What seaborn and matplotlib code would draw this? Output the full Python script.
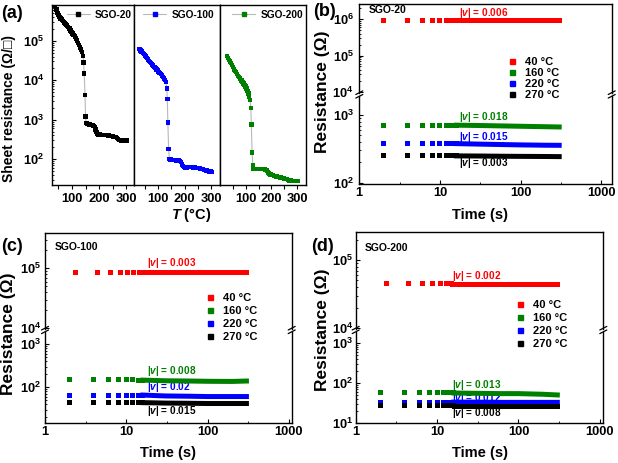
import numpy as np
import pandas as pd
import matplotlib
matplotlib.use('Agg')
import matplotlib.pyplot as plt
import seaborn as sns
from matplotlib.lines import Line2D
from matplotlib.ticker import (LogLocator, FixedLocator, FixedFormatter,
                               FuncFormatter, NullFormatter)

# ---------------- data : panel (a) ----------------
T20 = [30, 34, 38, 42, 46, 50, 54, 58, 62, 66, 70, 74, 78, 82, 86, 90, 94, 98, 102, 106,
       110, 114, 118, 122, 126, 130, 134, 138, 141, 143, 145, 148, 150, 152, 156, 160, 165, 170, 175, 180,
       184, 187, 190, 193, 197, 202, 207, 212, 217, 222, 227, 232, 237, 242, 247, 252, 257, 262, 266, 270,
       274, 278, 283, 288, 293, 298, 303]
R20 = [1.26e6, 1.0e6, 7.8e5, 6.2e5, 5.1e5, 4.5e5, 4.1e5, 3.7e5, 3.5e5, 3.2e5,
       2.95e5, 2.75e5, 2.6e5, 2.45e5, 2.25e5, 2.05e5, 1.85e5, 1.7e5, 1.55e5, 1.4e5,
       1.3e5, 1.15e5, 1.02e5, 8.9e4, 7.8e4, 6.8e4, 6.0e4, 5.2e4, 4.2e4, 2.8e4,
       1.5e4, 4.3e3, 1.2e3, 830, 795, 775, 760, 740, 725, 690,
       645, 560, 480, 435, 425, 425, 415, 415, 415, 405,
       405, 400, 400, 390, 380, 375, 370, 365, 345, 325,
       310, 305, 300, 300, 298, 295, 295]

T100 = [30, 34, 38, 42, 46, 50, 54, 58, 62, 66, 70, 74, 78, 82, 86, 90, 94, 98, 102, 106,
        110, 114, 118, 122, 126, 130, 133, 135, 137, 140, 143, 147, 152, 157, 162, 167, 172, 177, 182, 186,
        190, 194, 198, 203, 208, 213, 218, 223, 228, 233, 238, 243, 248, 253, 258, 263, 268, 273, 278, 283,
        288, 293, 298, 303]
R100 = [6.3e4, 5.75e4, 5.4e4, 5.0e4, 4.6e4, 4.25e4, 4.0e4, 3.65e4, 3.4e4, 3.1e4,
        2.9e4, 2.7e4, 2.5e4, 2.35e4, 2.2e4, 2.05e4, 1.9e4, 1.8e4, 1.65e4, 1.55e4,
        1.45e4, 1.33e4, 1.23e4, 1.12e4, 1.02e4, 8.9e3, 6.2e3, 3.3e3, 850, 180,
        100, 98, 96, 95, 94, 93, 93, 92, 91, 85,
        74, 66, 63, 62, 62, 63, 63, 63, 63, 62,
        61, 60, 60, 59, 58, 57, 56, 54, 53, 52,
        50, 49, 48.5, 48]

T200 = [27, 31, 35, 39, 43, 47, 51, 55, 59, 63, 67, 71, 75, 79, 83, 87, 91, 95, 99, 103,
        107, 111, 114, 117, 120, 122, 125, 128, 131, 135, 140, 145, 150, 155, 160, 165, 170, 175, 180, 184,
        188, 192, 196, 200, 205, 210, 215, 220, 225, 230, 235, 240, 245, 250, 255, 260, 265, 270, 275, 280,
        285, 290, 295, 300, 305]
R200 = [4.1e4, 3.7e4, 3.3e4, 3.0e4, 2.75e4, 2.45e4, 2.2e4, 1.9e4, 1.75e4, 1.6e4,
        1.45e4, 1.3e4, 1.2e4, 1.1e4, 1.0e4, 9.1e3, 8.3e3, 7.6e3, 6.9e3, 6.2e3,
        5.4e3, 4.6e3, 3.9e3, 3.2e3, 2.0e3, 750, 148, 69, 57, 56,
        56, 56, 56, 56, 56, 56, 56, 55, 54, 51,
        46, 43, 41, 40, 39, 38, 37, 36, 35.5, 35,
        34, 33.5, 33, 32, 31.5, 31, 30, 29, 28.5, 28,
        28, 28, 28, 27.5, 27.5]

a_names = ['SGO-20', 'SGO-100', 'SGO-200']
a_colors = ['#000000', '#0000ff', '#008000']

# ---------------- data : panels (b)-(d) ----------------
temp_labels = ['40 °C', '160 °C', '220 °C', '270 °C']
temp_colors = ['#ff0000', '#008000', '#0000ff', '#000000']

t_pts = [2, 4, 6, 8, 10, 12, 14, 16]
t_band = [16, 30, 60, 100, 200, 300]

# (b) SGO-20
b_red_t = [2, 4, 6, 8, 10, 12, 14, 16]
b_red_band_t = [16, 30, 60, 100, 200, 300]
b_red_pts = [9.5e5, 9.5e5, 9.5e5, 9.5e5, 9.5e5, 9.5e5, 9.5e5, 9.5e5]
b_red_band = [9.5e5, 9.5e5, 9.5e5, 9.5e5, 9.5e5, 9.5e5]
b_green_pts = [712, 711, 711, 710, 710, 709, 709, 708]
b_green_band = [708, 700, 690, 682, 672, 666]
b_blue_pts = [382, 382, 381, 381, 380, 380, 379, 379]
b_blue_band = [378, 372, 366, 362, 358, 357]
b_black_pts = [251, 251, 251, 250, 250, 250, 250, 249]
b_black_band = [249, 248, 246, 245, 244, 243]
b_v = ['0.006', '0.018', '0.015', '0.003']

# (c) SGO-100
c_red_t = [2.4, 4.4, 6.4, 8.4, 10.4, 12.4, 14.4, 16.4]
c_red_band_t = [16.4, 30, 60, 100, 200, 300]
c_red_pts = [8.6e4, 8.6e4, 8.6e4, 8.6e4, 8.6e4, 8.6e4, 8.6e4, 8.6e4]
c_red_band = [8.6e4, 8.6e4, 8.6e4, 8.6e4, 8.6e4, 8.6e4]
c_green_pts = [149, 149, 148, 148, 148, 148, 147, 147]
c_green_band = [147, 142, 140, 138, 137, 140]
c_blue_pts = [66, 66, 65, 66, 66, 66, 66, 66]
c_blue_band = [66, 63, 62, 61, 61, 61]
c_black_pts = [44, 44, 44, 44, 44, 44, 44, 44]
c_black_band = [44, 43, 42.5, 42, 42, 42]
c_v = ['0.003', '0.008', '0.02', '0.015']

# (d) SGO-200
d_red_t = [2.4, 4.5, 6.7, 8.8, 10.9, 13.0, 15.1]
d_red_band_t = [15.1, 30, 60, 100, 200, 300]
d_red_pts = [4.5e4, 4.5e4, 4.5e4, 4.5e4, 4.5e4, 4.5e4, 4.5e4]
d_red_band = [4.5e4, 4.5e4, 4.5e4, 4.5e4, 4.5e4, 4.5e4]
d_green_pts = [56, 56, 56, 56, 56, 56, 56, 56]
d_green_band = [56, 55, 54, 54, 52, 50]
d_blue_pts = [33, 33, 33, 33, 33, 33, 33, 33]
d_blue_band = [33, 33, 32.5, 32.5, 32.5, 32.5]
d_black_pts = [27, 27, 27, 27, 27, 27, 27, 27]
d_black_band = [27, 27, 27, 27, 27, 27]
d_v = ['0.002', '0.013', '0.012', '0.008']

# ---------------- style ----------------
sns.set_style('ticks')
plt.rcParams['font.family'] = ['Liberation Sans', 'DejaVu Sans']
plt.rcParams['font.weight'] = 'bold'
plt.rcParams['mathtext.fontset'] = 'custom'
plt.rcParams['mathtext.rm'] = 'Liberation Sans:bold'
plt.rcParams['mathtext.bf'] = 'Liberation Sans:bold'
plt.rcParams['mathtext.it'] = 'Liberation Sans:italic:bold'
plt.rcParams['axes.linewidth'] = 1.0
plt.rcParams['axes.edgecolor'] = 'black'
plt.rcParams['xtick.color'] = 'black'
plt.rcParams['ytick.color'] = 'black'
plt.rcParams['text.color'] = 'black'

W, H = 618, 463
fig = plt.figure(figsize=(W / 100, H / 100), dpi=100)


def box(x0, y0, x1, y1):
    return [x0 / W, 1 - y1 / H, (x1 - x0) / W, (y1 - y0) / H]


def fx(x):
    return x / W


def fy(y):
    return 1 - y / H


def log_y(ax, pad, show=True):
    ax.set_yscale('log')
    ax.yaxis.set_major_locator(LogLocator(base=10, numticks=20))
    ax.yaxis.set_minor_locator(LogLocator(base=10, subs=np.arange(2, 10), numticks=20))
    ax.yaxis.set_major_formatter(FuncFormatter(
        lambda v, p: r'$\mathbf{10^{%d}}$' % int(round(np.log10(v)))))
    ax.yaxis.set_minor_formatter(NullFormatter())
    if show:
        ax.tick_params(axis='y', which='both', direction='in', left=True, right=False,
                       labelsize=9.3, pad=pad)
        ax.tick_params(axis='y', which='major', length=3, width=0.8)
        ax.tick_params(axis='y', which='minor', length=1.6, width=0.6)
    else:
        ax.tick_params(axis='y', which='both', left=False, right=False, labelleft=False)


def fig_line(xs, ys):
    fig.add_artist(Line2D([fx(x) for x in xs], [fy(y) for y in ys],
                          transform=fig.transFigure, color='black', lw=0.9))


# ---------------- panel (a) ----------------
a_edges = [52, 133.7, 220, 306]
a_xlims = [(26, 328), (8, 334), (0, 335)]
a_data = [(T20, R20), (T100, R100), (T200, R200)]
a_leg_x = [66.7, 143, 232]
for i in range(3):
    ax = fig.add_axes(box(a_edges[i], 5, a_edges[i + 1], 185))
    T, R = a_data[i]
    df = pd.DataFrame({'T': T, 'R': R})
    sns.lineplot(data=df, x='T', y='R', ax=ax, color='#b8b8b8', lw=0.8,
                 estimator=None, sort=False, zorder=2)
    sns.scatterplot(data=df, x='T', y='R', ax=ax, color=a_colors[i], marker='s',
                    s=10, linewidth=0, edgecolor='none', zorder=3)
    log_y(ax, pad=5.5, show=(i == 0))
    ax.set_ylim(22.1, 8.13e5)
    ax.set_xlim(*a_xlims[i])
    ax.xaxis.set_major_locator(FixedLocator([100, 200, 300]))
    ax.xaxis.set_minor_locator(FixedLocator([50, 150, 250]))
    ax.tick_params(axis='x', which='both', direction='out', bottom=True, top=False,
                   length=3, width=0.8, labelsize=9.3, pad=2.5)
    ax.set_xlabel('')
    ax.set_ylabel('')
    h = Line2D([], [], color='#b8b8b8', lw=0.8, marker='s', ms=3,
               mfc=a_colors[i], mec=a_colors[i])
    fig.legend([h], [a_names[i]], loc='center left',
               bbox_to_anchor=(fx(a_leg_x[i]), fy(14.5)), bbox_transform=fig.transFigure,
               frameon=False, fontsize=7.3, handlelength=2.3, handletextpad=0.5,
               borderpad=0, borderaxespad=0)

fig.text(fx(9), fy(108), 'Sheet resistance (Ω/□)', rotation=90, ha='center', va='center',
         fontsize=10, fontweight='bold')
fig.text(fx(191.7), fy(215), r'$T$ (°C)', ha='center', va='center', fontsize=10.5,
         fontweight='bold')
fig.text(fx(1), fy(13), '(a)', ha='left', va='center', fontsize=13, fontweight='bold')


# ---------------- panels (b)-(d) ----------------
def broken_panel(x0, x1, ytop, yub, ylt, ybot, up_lim, lo_lim, xmax_log, ypad,
                 red_t, red_band_t, pts, bands, vtexts, txt_x, txt_y, name, name_xy,
                 leg_x, leg_y, leg_ls, tag, tag_xy, ylab_xy, xlab_xy):
    axu = fig.add_axes(box(x0, ytop, x1, yub))
    axl = fig.add_axes(box(x0, ylt, x1, ybot))
    for ax in (axu, axl):
        ax.patch.set_alpha(0)
        for k in range(4):
            tp = red_t if k == 0 else t_pts
            tb = red_band_t if k == 0 else t_band
            sns.scatterplot(x=tp, y=pts[k], ax=ax, color=temp_colors[k], marker='s',
                            s=13, linewidth=0, edgecolor='none', zorder=3)
            sns.lineplot(x=tb, y=bands[k], ax=ax, color=temp_colors[k], lw=3.6,
                         estimator=None, sort=False, solid_capstyle='projecting', zorder=3)
        ax.set_xscale('log')
        ax.set_xlim(1, 10 ** xmax_log)
        log_y(ax, pad=ypad)
        ax.set_xlabel('')
        ax.set_ylabel('')
    axu.set_ylim(10 ** up_lim[0], 10 ** up_lim[1])
    axl.set_ylim(10 ** lo_lim[0], 10 ** lo_lim[1])
    axu.spines['bottom'].set_visible(False)
    axu.tick_params(axis='x', which='both', bottom=False, top=False, labelbottom=False)
    axl.spines['top'].set_visible(False)
    axl.xaxis.set_major_locator(FixedLocator([1, 10, 100, 1000]))
    axl.xaxis.set_major_formatter(FixedFormatter(['1', '10', '100', '1000']))
    axl.xaxis.set_minor_locator(FixedLocator([10 ** 0.5, 10 ** 1.5, 10 ** 2.5]))
    axl.tick_params(axis='x', which='both', direction='in', bottom=True, top=False,
                    labelsize=9.3, pad=2.5)
    axl.tick_params(axis='x', which='major', length=3, width=0.8)
    axl.tick_params(axis='x', which='minor', length=1.6, width=0.6)
    # break marks
    yb = (yub + ylt) / 2
    for xs in (x0, x1):
        for d in (-1.8, 1.8):
            fig_line([xs - 3.5, xs + 3.5], [yb + d + 1.8, yb + d - 1.8])
    # |v| annotations
    for k in range(4):
        host = axu if k == 0 else axl
        host.text(fx(txt_x), fy(txt_y[k]), '|$v$| = ' + vtexts[k], transform=fig.transFigure,
                  color=temp_colors[k], fontsize=7.2, fontweight='bold', ha='left', va='center',
                  zorder=1, clip_on=False)
    fig.text(fx(name_xy[0]), fy(name_xy[1]), name, ha='left', va='center', fontsize=7.5,
             fontweight='bold')
    handles = [Line2D([], [], ls='none', marker='s', ms=3.6, color=c, mec=c)
               for c in temp_colors]
    fig.legend(handles, temp_labels, loc='center left',
               bbox_to_anchor=(fx(leg_x), fy(leg_y)), bbox_transform=fig.transFigure,
               frameon=False, fontsize=8, handlelength=1.0, handletextpad=0.7,
               labelspacing=leg_ls, borderpad=0, borderaxespad=0)
    fig.text(fx(tag_xy[0]), fy(tag_xy[1]), tag, ha='left', va='center', fontsize=13,
             fontweight='bold')
    fig.text(fx(ylab_xy[0]), fy(ylab_xy[1]), 'Resistance (Ω)', rotation=90, ha='center',
             va='center', fontsize=12.5, fontweight='bold')
    fig.text(fx(xlab_xy[0]), fy(xlab_xy[1]), 'Time (s)', ha='center', va='center',
             fontsize=10.5, fontweight='bold')


broken_panel(359.3, 611.7, 4, 93, 96, 184, (3.964, 6.423), (1.981, 3.281), 3.128, 4,
             b_red_t, b_red_band_t,
             [b_red_pts, b_green_pts, b_blue_pts, b_black_pts],
             [b_red_band, b_green_band, b_blue_band, b_black_band],
             b_v, 459, [13, 117, 137, 163], 'SGO-20', (369, 10),
             506.2, 78.2, 0.1, '(b)', (313, 12), (322, 92), (480, 214.5))

broken_panel(45, 291.7, 233.3, 328.5, 331.5, 422.7, (3.992, 5.586), (1.177, 3.298), 3.034, 2.5,
             c_red_t, c_red_band_t,
             [c_red_pts, c_green_pts, c_blue_pts, c_black_pts],
             [c_red_band, c_green_band, c_blue_band, c_black_band],
             c_v, 146.7, [263.3, 370.7, 387.3, 410.7], 'SGO-100', (55, 247.3),
             204.5, 317.5, 0.28, '(c)', (1, 246.7), (9, 334), (167.5, 452.5))

broken_panel(355.7, 603.3, 232, 328.5, 331.5, 422.7, (3.993, 5.412), (1.0, 3.297), 3.042, 2,
             d_red_t, d_red_band_t,
             [d_red_pts, d_green_pts, d_blue_pts, d_black_pts],
             [d_red_band, d_green_band, d_blue_band, d_black_band],
             d_v, 451.7, [275.7, 385, 398.3, 413.3], 'SGO-200', (365, 248.3),
             514.5, 324.2, 0.28, '(d)', (311, 246.7), (322, 330), (480.5, 452.5))

fig.savefig('out.png', dpi=100)
